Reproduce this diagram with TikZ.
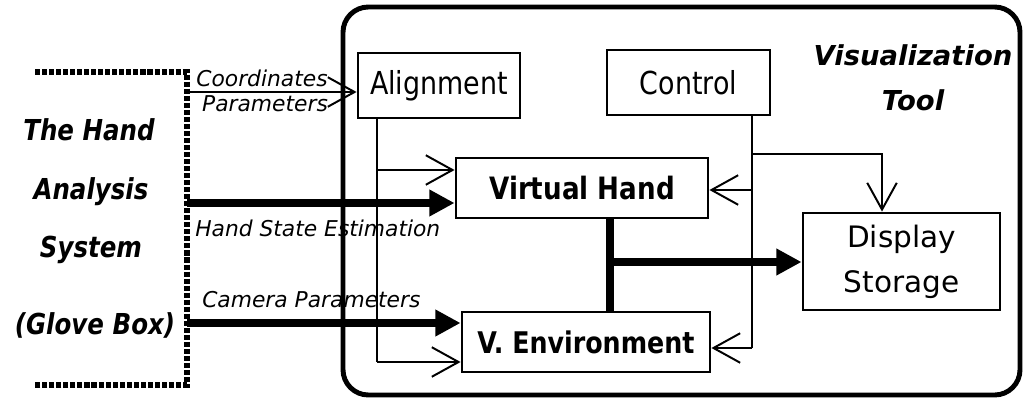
\documentclass[tikz,border=0pt]{standalone}
\usepackage{fontspec}
\setmainfont{DejaVu Sans}
\newfontfamily\narrowfont[FakeStretch=0.85]{DejaVu Sans}
\usetikzlibrary{arrows.meta}
\tikzset{
	block/.style = {
		shape=rectangle,
		draw,
		line width=2pt,
		align=center,
		inner sep=0pt
	},
	tag/.style = {
		font=\fontsize{15.5}{18}\selectfont\itshape,
		inner sep=0pt
	},
	title/.style = {
		font=\narrowfont\fontsize{20.5}{22}\selectfont\bfseries\itshape,
		inner sep=0pt
	},
	wire/.style = {line width=1.4pt},
	feed/.style = {wire, -{Straight Barb[length=19pt,width=21pt]}},
	bus/.style = {line width=5pt},
	flow/.style = {bus, -{Triangle[length=18pt,width=18pt]}},
	bracket/.style = {line width=4pt, dash pattern=on 3.6pt off 1.4pt}
}

\begin{document}
\begin{tikzpicture}[x=0.025cm, y=-0.025cm]
	\useasboundingbox (0,0) rectangle (1024,400);
	\draw[bracket] (35,72) -- (187,72) -- (187,385) -- (35,385);
	\draw[line width=3.5pt, rounded corners=18pt] (343,7) rectangle (1020,395);
	\node[title] (hand1) at (89,130) {The Hand};
	\node[title] (hand2) at (91,192) {Analysis};
	\node[title] (hand3) at (91,250) {System};
	\node[title] (hand4) at (95,325) {(Glove Box)};
	\node[title, font=\fontsize{19.5}{22}\selectfont\bfseries\itshape] (vis1) at (913,55) {Visualization};
	\node[title, font=\fontsize{19.5}{22}\selectfont\bfseries\itshape] (vis2) at (913,100) {Tool};
	\node[block, minimum width=4.05cm, minimum height=1.625cm,
		font=\narrowfont\fontsize{22.5}{24}\selectfont] (align) at (439,85.5) {Alignment};
	\node[block, minimum width=4.075cm, minimum height=1.625cm,
		font=\narrowfont\fontsize{22.5}{24}\selectfont] (ctrl) at (688.5,82.5) {Control};
	\node[block, minimum width=6.3cm, minimum height=1.5cm,
		font=\narrowfont\fontsize{21.9}{24}\selectfont\bfseries] (hand) at (582,188) {Virtual Hand};
	\node[block, minimum width=6.2cm, minimum height=1.5cm,
		font=\narrowfont\fontsize{21.2}{24}\selectfont\bfseries] (env) at (586,342) {V. Environment};
	\node[block, minimum width=4.925cm, minimum height=2.425cm,
		font=\fontsize{21}{32}\selectfont] (store) at (901.5,261.5) {Display\\Storage};
	\coordinate (coord) at (187,92);
	\coordinate (hse) at (187,203);
	\coordinate (cam) at (187,323);
	\coordinate (a1) at (377,170);
	\coordinate (a2) at (377,362);
	\coordinate (c0) at (752,154);
	\coordinate (c1) at (752,190);
	\coordinate (c2) at (752,348);
	\coordinate (s0) at (882,154);
	\coordinate (j) at (610,262);
	\node[tag] (lcoord) at (262,78) {Coordinates};
	\node[tag] (lpar) at (265,104) {Parameters};
	\node[tag, anchor=west] (lhse) at (195,228) {Hand State Estimation};
	\node[tag, anchor=west] (lcam) at (202,300) {Camera Parameters};
	\draw[feed] (coord) -- (coord -| align.west);
	\draw[flow] (hse) -- (hse -| hand.west);
	\draw[flow] (cam) -- (cam -| env.west);
	\draw[wire] (align.south -| a2) -- (a2);
	\draw[feed] (a1) -- (a1 -| hand.west);
	\draw[feed] (a2) -- (a2 -| env.west);
	\draw[wire] (ctrl.south -| c2) -- (c2);
	\draw[feed] (c1) -- (c1 -| hand.east);
	\draw[feed] (c2) -- (c2 -| env.east);
	\draw[feed] (c0) -- (s0) -- (s0 |- store.north);
	\draw[bus] (hand.south -| j) -- (env.north -| j);
	\draw[flow] (j) -- (j -| store.west);
\end{tikzpicture}
\end{document}
